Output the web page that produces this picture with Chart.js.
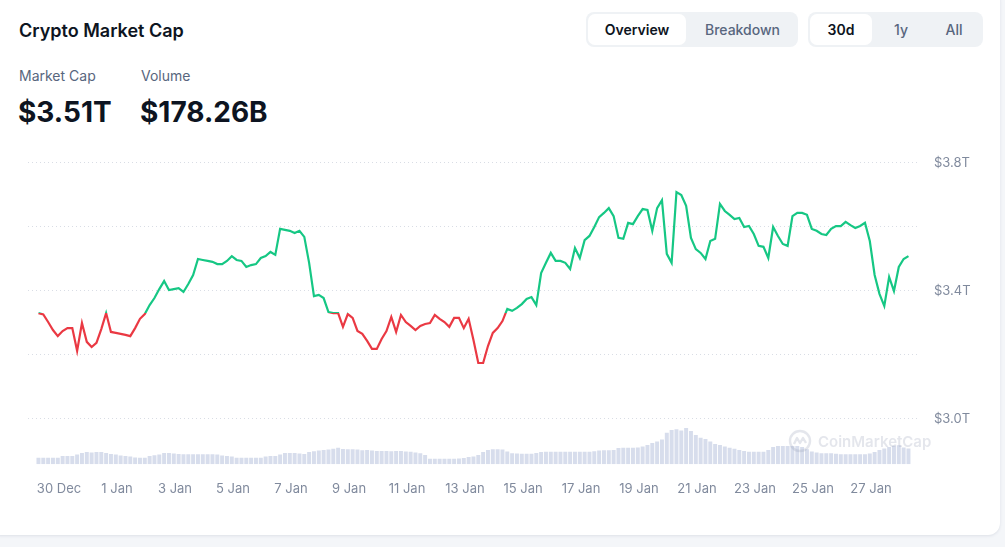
<!DOCTYPE html>
<html>
<head>
<meta charset="utf-8">
<title>Crypto Market Cap</title>
<script src="https://cdn.jsdelivr.net/npm/chart.js@4.4.1/dist/chart.umd.min.js"></script>
<style>
  html, body { margin: 0; padding: 0; }
  body {
    width: 1005px; height: 547px; position: relative; overflow: hidden;
    background: #f4f6f9; font-family: Inter, 'Noto Sans', sans-serif; color: #0d1421;
  }
  .card {
    position: absolute; left: -12px; top: -12px; width: 1012px; height: 547px;
    background: #fff; border-radius: 12px; box-shadow: 0 1px 3px rgba(88, 102, 126, 0.14);
  }
  .abs { position: absolute; white-space: nowrap; line-height: 1; }
  .title { left: 19px; top: 22px; font-size: 18px; font-weight: 600; }
  .label { top: 69px; font-size: 14px; color: #58667e; }
  .value { top: 98px; font-size: 28px; font-weight: 700; }
  .group { position: absolute; top: 12px; height: 35px; background: #eff2f5; border-radius: 8px; }
  .pill { position: absolute; top: 2px; height: 31px; background: #fff; border-radius: 7px; }
  .btn { position: absolute; top: 12px; height: 35px; line-height: 35px; font-size: 14px; font-weight: 500;
         text-align: center; color: #58667e; }
  .btn.on { color: #0d1421; font-weight: 600; }
  #chartBox { position: absolute; left: 0; top: 121px; width: 1000px; height: 420px; }
  .mark { position: absolute; left: 788px; top: 429px; height: 24px; display: flex; align-items: center;
          gap: 6px; color: rgba(150, 160, 182, 0.26); font-size: 15px; font-weight: 600; }
</style>
</head>
<body>
<div class="card"></div>

<div class="abs title">Crypto Market Cap</div>
<div class="abs label" style="left:19px">Market Cap</div>
<div class="abs label" style="left:141px">Volume</div>
<div class="abs value" style="left:18px">$3.51T</div>
<div class="abs value" style="left:140px">$178.26B</div>

<div class="group" style="left:586px; width:212px;"><div class="pill" style="left:1.5px; width:98px;"></div></div>
<div class="btn on" style="left:587px; width:100px;">Overview</div>
<div class="btn" style="left:687px; width:111px;">Breakdown</div>

<div class="group" style="left:808px; width:175px;"><div class="pill" style="left:2px; width:62px;"></div></div>
<div class="btn on" style="left:810px; width:62px;">30d</div>
<div class="btn" style="left:876px; width:50px;">1y</div>
<div class="btn" style="left:929px; width:50px;">All</div>

<div id="chartBox"><canvas id="chart" width="1000" height="420"></canvas></div>

<div class="mark">
  <svg width="24" height="24" viewBox="0 0 24 24">
    <circle cx="12" cy="12" r="10" fill="none" stroke="rgba(150,160,182,0.26)" stroke-width="2.4"/>
    <path d="M6 15 L9 9 L12 14 L15 9 L18 14" fill="none" stroke="rgba(150,160,182,0.26)" stroke-width="2.4" stroke-linejoin="round"/>
  </svg>
  <span>CoinMarketCap</span>
</div>

<script>
// market cap in trillions USD, one reading every 4 hours from 29 Dec 07:00
const marketCapT = [
  3.331, 3.327, 3.303, 3.278, 3.259, 3.275, 3.284, 3.284, 3.213, 3.300,
  3.241, 3.225, 3.238, 3.281, 3.331, 3.272, 3.269, 3.266, 3.263, 3.259,
  3.284, 3.313, 3.328, 3.356, 3.378, 3.406, 3.431, 3.403, 3.406, 3.409,
  3.397, 3.422, 3.450, 3.500, 3.497, 3.494, 3.491, 3.484, 3.484, 3.494,
  3.509, 3.497, 3.494, 3.475, 3.481, 3.484, 3.503, 3.509, 3.522, 3.513,
  3.594, 3.591, 3.588, 3.581, 3.588, 3.569, 3.488, 3.384, 3.388, 3.378,
  3.334, 3.331, 3.331, 3.288, 3.328, 3.316, 3.275, 3.266, 3.244, 3.219,
  3.219, 3.250, 3.275, 3.319, 3.272, 3.325, 3.303, 3.291, 3.278, 3.291,
  3.297, 3.300, 3.325, 3.313, 3.303, 3.288, 3.316, 3.316, 3.284, 3.313,
  3.247, 3.175, 3.175, 3.228, 3.269, 3.284, 3.306, 3.344, 3.338, 3.347,
  3.359, 3.375, 3.381, 3.356, 3.456, 3.488, 3.519, 3.494, 3.494, 3.488,
  3.469, 3.534, 3.503, 3.559, 3.572, 3.600, 3.631, 3.644, 3.659, 3.634,
  3.566, 3.563, 3.613, 3.609, 3.634, 3.656, 3.653, 3.588, 3.659, 3.684,
  3.516, 3.488, 3.709, 3.700, 3.666, 3.566, 3.531, 3.519, 3.500, 3.556,
  3.563, 3.672, 3.650, 3.638, 3.625, 3.628, 3.600, 3.603, 3.578, 3.541,
  3.538, 3.503, 3.600, 3.572, 3.547, 3.541, 3.634, 3.644, 3.644, 3.638,
  3.594, 3.588, 3.578, 3.575, 3.594, 3.603, 3.603, 3.616, 3.606, 3.597,
  3.603, 3.613, 3.556, 3.450, 3.391, 3.353, 3.444, 3.400, 3.475, 3.500, 3.509
];

// volume in billions USD, same 4 hour steps
const volumeB = [
  71, 71, 71, 71, 71, 89, 89, 89, 105, 121,
  132, 126, 132, 132, 121, 110, 105, 94, 89, 83,
  73, 71, 71, 89, 96, 105, 121, 121, 116, 110,
  107, 107, 107, 107, 107, 107, 107, 105, 94, 89,
  83, 71, 71, 71, 71, 71, 71, 83, 89, 89,
  105, 121, 121, 121, 116, 110, 132, 139, 148, 153,
  158, 167, 178, 164, 161, 161, 158, 150, 153, 148,
  142, 142, 142, 139, 142, 142, 137, 135, 126, 118,
  100, 60, 60, 60, 60, 60, 60, 62, 67, 78,
  83, 100, 132, 153, 161, 161, 158, 137, 118, 116,
  113, 113, 113, 121, 132, 135, 135, 135, 135, 135,
  135, 135, 135, 135, 135, 139, 148, 150, 150, 153,
  174, 178, 178, 178, 180, 190, 207, 228, 244, 265,
  338, 367, 375, 362, 388, 356, 314, 285, 271, 244,
  217, 207, 190, 177, 167, 153, 142, 135, 135, 135,
  135, 153, 185, 196, 196, 196, 196, 196, 185, 161,
  137, 126, 118, 118, 118, 112, 107, 107, 107, 107,
  107, 107, 116, 132, 153, 169, 185, 198, 203, 180, 169
];

// x axis is in days after 30 Dec 00:00
const firstSampleDay = -17 / 24;
const sampleStepDays = 4 / 24;
const sampleDays = marketCapT.map((_, i) => firstSampleDay + i * sampleStepDays);

const xTickValues = [0, 2, 4, 6, 8, 10, 12, 14, 16, 18, 20, 22, 24, 26, 28];
const xTickLabels = ['30 Dec', '1 Jan', '3 Jan', '5 Jan', '7 Jan', '9 Jan', '11 Jan', '13 Jan',
                     '15 Jan', '17 Jan', '19 Jan', '21 Jan', '23 Jan', '25 Jan', '27 Jan'];
const yTickValues = [3.0, 3.2, 3.4, 3.6, 3.8];
const yTickLabels = ['$3.0T', '', '$3.4T', '', '$3.8T'];

const green = '#16c784';
const red = '#ea3943';
const baseValue = marketCapT[0];
const tickFont = { family: 'Inter', size: 13 };

// green above the first value, red below it
const lineColor = (c) => {
  const chart = c.chart;
  const area = chart.chartArea;
  if (!area) return green;
  const pos = (chart.scales.y.getPixelForValue(baseValue) - area.top) / (area.bottom - area.top);
  const stop = Math.min(1, Math.max(0, pos));
  const g = chart.ctx.createLinearGradient(0, area.top, 0, area.bottom);
  g.addColorStop(0, green);
  g.addColorStop(stop, green);
  g.addColorStop(stop, red);
  g.addColorStop(1, red);
  return g;
};

// keep the plot box fixed, the label overhang is not wanted here
const noPad = (s) => {
  s.paddingTop = 0;
  s.paddingBottom = 0;
  s.paddingLeft = 0;
  s.paddingRight = 0;
};

new Chart(document.getElementById('chart'), {
  type: 'line',
  data: {
    datasets: [
      {
        type: 'line',
        data: marketCapT.map((v, i) => ({ x: sampleDays[i], y: v })),
        yAxisID: 'y',
        borderColor: lineColor,
        borderWidth: 2.2,
        pointRadius: 0,
        tension: 0,
        fill: false
      },
      {
        type: 'bar',
        data: volumeB.map((v, i) => ({ x: sampleDays[i], y: v })),
        yAxisID: 'y2',
        backgroundColor: '#d7ddec',
        barPercentage: 0.82,
        categoryPercentage: 1
      }
    ]
  },
  options: {
    responsive: false,
    animation: false,
    devicePixelRatio: 1,
    layout: { padding: { left: 28, right: 0, top: 10, bottom: 0 } },
    plugins: { legend: { display: false }, tooltip: { enabled: false } },
    scales: {
      x: {
        type: 'linear',
        min: -1.069,
        max: 29.586,
        offset: false,
        grid: { display: false, drawTicks: false },
        border: { display: false },
        afterBuildTicks: (s) => { s.ticks = xTickValues.map(v => ({ value: v })); },
        afterFit: (s) => { s.height = 76.7; noPad(s); },
        ticks: {
          autoSkip: false,
          maxRotation: 0,
          padding: 17,
          color: '#808a9d',
          font: tickFont,
          callback: (v, i) => xTickLabels[i]
        }
      },
      y: {
        position: 'right',
        min: 2.8584,
        max: 3.9,
        grid: { color: '#d9dde5', drawTicks: false, lineWidth: 1 },
        border: { display: false, dash: [1, 3] },
        afterBuildTicks: (s) => { s.ticks = yTickValues.map(v => ({ value: v })); },
        afterFit: (s) => { s.width = 83; noPad(s); },
        ticks: {
          padding: 17,
          color: '#808a9d',
          font: tickFont,
          callback: (v, i) => yTickLabels[i]
        }
      },
      y2: {
        display: false,
        min: 0,
        max: 3566
      }
    }
  }
});
</script>
</body>
</html>
